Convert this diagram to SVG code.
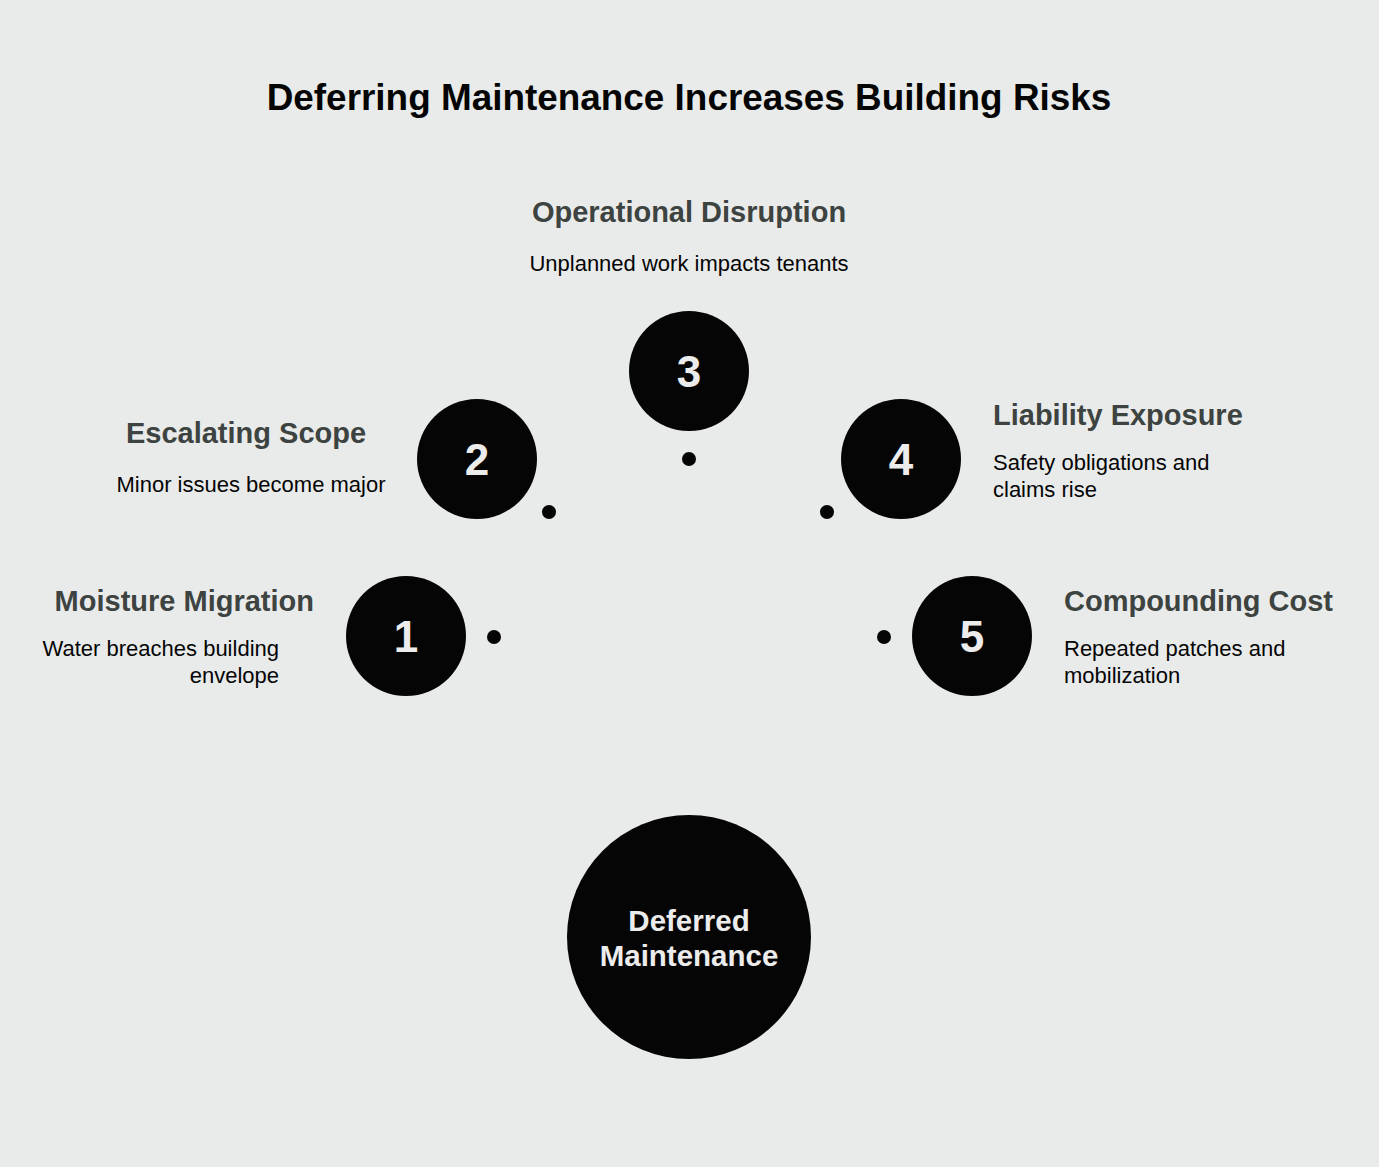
<svg xmlns="http://www.w3.org/2000/svg" width="1379" height="1167" viewBox="0 0 1379 1167">
<style>
.bg{fill:#e9ebea}
.node{fill:#050505}
.dot{fill:#050505}
.title{font-family:"Liberation Sans",Arial,sans-serif;font-weight:bold;font-size:36.9px;fill:#050505;text-anchor:middle}
.h{font-family:"Liberation Sans",Arial,sans-serif;font-weight:bold;font-size:29px;fill:#3d4340}
.d{font-family:"Liberation Sans",Arial,sans-serif;font-size:22px;fill:#050505}
.num{font-family:"Liberation Sans",Arial,sans-serif;font-weight:bold;font-size:44px;fill:#ececec;text-anchor:middle}
.ctr{font-family:"Liberation Sans",Arial,sans-serif;font-weight:bold;font-size:29.5px;fill:#ececec;text-anchor:middle}
</style>
<rect class="bg" x="0" y="0" width="1379" height="1167"/>
<text class="title" x="689" y="110">Deferring Maintenance Increases Building Risks</text>
<g id="connectors">
<circle class="dot" cx="494" cy="637" r="7"/>
<circle class="dot" cx="549" cy="512" r="7"/>
<circle class="dot" cx="689" cy="459" r="7"/>
<circle class="dot" cx="827" cy="512" r="7"/>
<circle class="dot" cx="884" cy="637" r="7"/>
</g>
<g id="center">
<circle class="node" cx="689" cy="937" r="122"/>
<text class="ctr" x="689" y="931">Deferred</text>
<text class="ctr" x="689" y="966">Maintenance</text>
</g>
<g id="node1">
<circle class="node" cx="406" cy="636" r="60"/>
<text class="num" x="406" y="652">1</text>
<text class="h" x="314" y="611" text-anchor="end">Moisture Migration</text>
<text class="d" x="279" y="656" text-anchor="end">Water breaches building</text>
<text class="d" x="279" y="683" text-anchor="end">envelope</text>
</g>
<g id="node2">
<circle class="node" cx="477" cy="459" r="60"/>
<text class="num" x="477" y="475">2</text>
<text class="h" x="246" y="443" text-anchor="middle">Escalating Scope</text>
<text class="d" x="251" y="492" text-anchor="middle">Minor issues become major</text>
</g>
<g id="node3">
<circle class="node" cx="689" cy="371" r="60"/>
<text class="num" x="689" y="387">3</text>
<text class="h" x="689" y="222" text-anchor="middle">Operational Disruption</text>
<text class="d" x="689" y="271" text-anchor="middle">Unplanned work impacts tenants</text>
</g>
<g id="node4">
<circle class="node" cx="901" cy="459" r="60"/>
<text class="num" x="901" y="475">4</text>
<text class="h" x="993" y="425">Liability Exposure</text>
<text class="d" x="993" y="470">Safety obligations and</text>
<text class="d" x="993" y="497">claims rise</text>
</g>
<g id="node5">
<circle class="node" cx="972" cy="636" r="60"/>
<text class="num" x="972" y="652">5</text>
<text class="h" x="1064" y="611">Compounding Cost</text>
<text class="d" x="1064" y="656">Repeated patches and</text>
<text class="d" x="1064" y="683">mobilization</text>
</g>
</svg>
